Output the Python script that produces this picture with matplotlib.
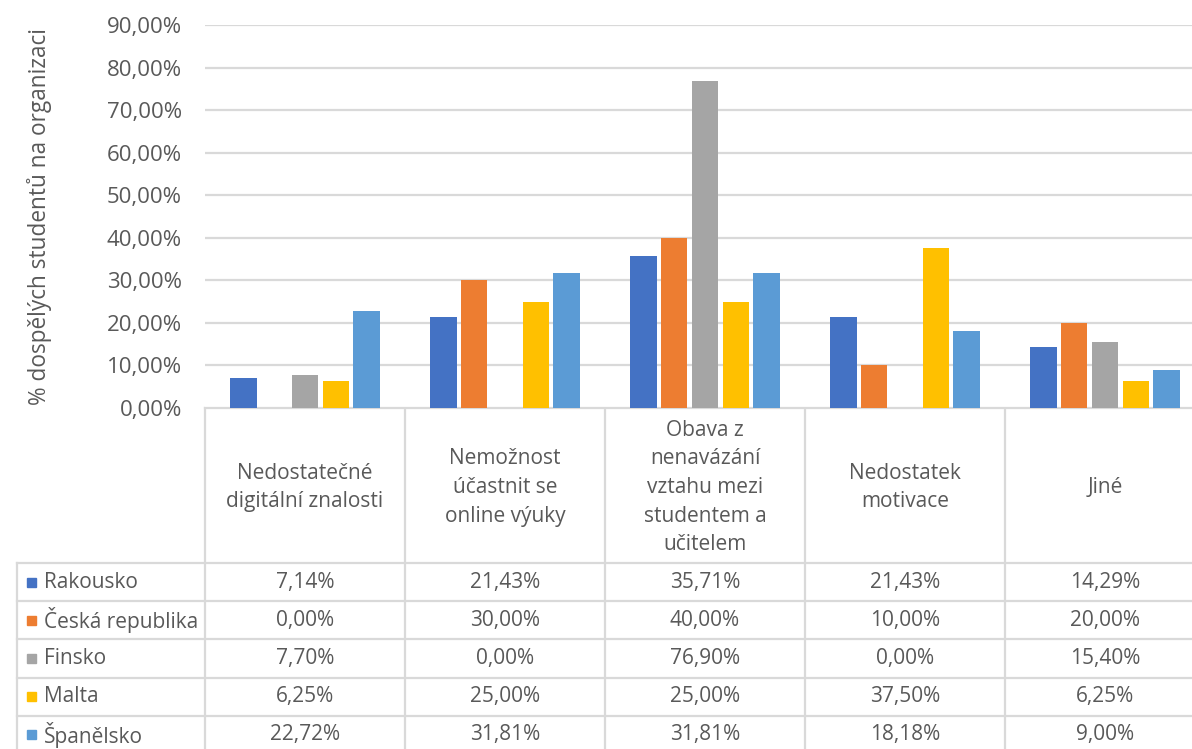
import numpy as np
import matplotlib.pyplot as plt
from matplotlib.patches import Rectangle

# data
categories = ["Nedostatečné\ndigitální znalosti",
              "Nemožnost\núčastnit se\nonline výuky",
              "Obava z\nnenavázání\nvztahu mezi\nstudentem a\nučitelem",
              "Nedostatek\nmotivace",
              "Jiné"]
countries = ["Rakousko", "Česká republika", "Finsko", "Malta", "Španělsko"]
rakousko = [7.14, 21.43, 35.71, 21.43, 14.29]
ceska = [0.00, 30.00, 40.00, 10.00, 20.00]
finsko = [7.70, 0.00, 76.90, 0.00, 15.40]
malta = [6.25, 25.00, 25.00, 37.50, 6.25]
spanelsko = [22.72, 31.81, 31.81, 18.18, 9.00]
yticks = np.arange(0, 91, 10)
ylabel = "% dospělých studentů na organizaci"

series = [rakousko, ceska, finsko, malta, spanelsko]
colors = ["#4472C4", "#ED7D31", "#A5A5A5", "#FFC000", "#5B9BD5"]
grid_c = "#D9D9D9"
text_c = "#595959"
font = "Open Sans"
fs_tab = 15

W, H = 1192, 749
# layout in pixels
x_left, col_w = 205, 200
y_top, y_zero = 25, 408
hdr_bottom = 563
row_h = 38.2
lab_left = 17

def fx(px):
    return px / W

def fy(py):
    return 1 - py / H

fig = plt.figure(figsize=(W / 100, H / 100), dpi=100)

# table layer (pixel coordinates)
tab = fig.add_axes([0, 0, 1, 1])
tab.set_xlim(0, W)
tab.set_ylim(H, 0)
tab.axis("off")

ncat = len(categories)
ax = fig.add_axes([fx(x_left), fy(y_zero), col_w * ncat / W, (y_zero - y_top) / H])
ax.set_xlim(0, ncat)
ax.set_ylim(0, 90)

bw = 0.132
step = 0.154
x = np.arange(ncat) + 0.5
for i, (vals, c) in enumerate(zip(series, colors)):
    ax.bar(x + (i - 2) * step, vals, width=bw, color=c, zorder=3)

ax.set_yticks(yticks)
ax.set_yticklabels([f"{v:.2f}%".replace(".", ",") for v in yticks],
                   fontsize=16, color=text_c, family=font)
ax.tick_params(axis="y", length=0, pad=16.5)
ax.set_xticks([])
ax.grid(axis="y", color=grid_c, linewidth=1.6, zorder=0)
for s in ax.spines.values():
    s.set_visible(False)
ax.set_ylabel(ylabel, fontsize=16.3, color=text_c, family=font)
ax.yaxis.set_label_coords((40 - x_left) / (col_w * ncat), 0.5)
ax.yaxis.label.set_va("center")

# table lines
right = x_left + col_w * ncat
nrows = len(countries)
bottom = hdr_bottom + row_h * nrows
lw = 1.6
tab.plot([x_left, right], [y_zero, y_zero], color=grid_c, lw=lw)
for j in range(ncat + 1):
    xx = x_left + col_w * j
    tab.plot([xx, xx], [y_zero, bottom], color=grid_c, lw=lw)
tab.plot([lab_left, lab_left], [hdr_bottom, bottom], color=grid_c, lw=lw)
for r in range(nrows + 1):
    yy = hdr_bottom + row_h * r
    tab.plot([lab_left, right], [yy, yy], color=grid_c, lw=lw)

# header text
for j, cat in enumerate(categories):
    tab.text(x_left + col_w * (j + 0.5), (y_zero + hdr_bottom) / 2 + 2, cat,
             ha="center", va="center", fontsize=fs_tab, color=text_c,
             family=font, linespacing=1.47)

# rows
for r, (name, vals, c) in enumerate(zip(countries, series, colors)):
    yc = hdr_bottom + row_h * (r + 0.5)
    tab.add_patch(Rectangle((27, yc - 4.5), 9, 9, color=c))
    tab.text(44, yc, name, ha="left", va="center", fontsize=fs_tab,
             color=text_c, family=font)
    for j, v in enumerate(vals):
        tab.text(x_left + col_w * (j + 0.5), yc, f"{v:.2f}%".replace(".", ","),
                 ha="center", va="center", fontsize=fs_tab, color=text_c, family=font)

fig.savefig("out.png", dpi=100)
